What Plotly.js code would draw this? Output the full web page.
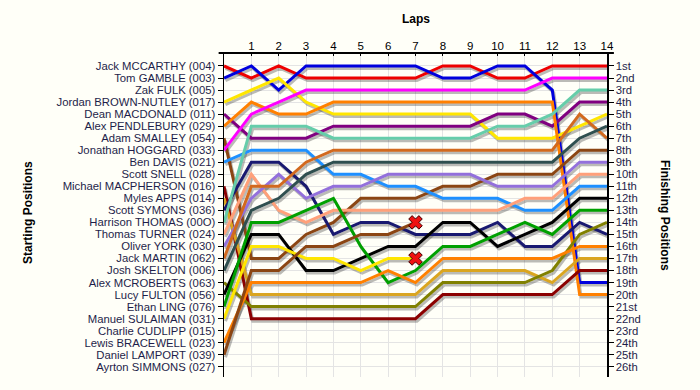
<!DOCTYPE html>
<html><head><meta charset="utf-8">
<script src="https://cdn.plot.ly/plotly-3.0.1.min.js"></script>
<style>html,body{margin:0;padding:0;background:#FFFFF8;}#chart{width:700px;height:390px;}</style>
</head><body><div id="chart"></div>
<script>
// ---- data ----
const laps = [0,1,2,3,4,5,6,7,8,9,10,11,12,13,14];
const startNames = ['Jack MCCARTHY (004)','Tom GAMBLE (003)','Zak FULK (005)','Jordan BROWN-NUTLEY (017)','Dean MACDONALD (011)','Alex PENDLEBURY (029)','Adam SMALLEY (054)','Jonathan HOGGARD (033)','Ben DAVIS (021)','Scott SNELL (028)','Michael MACPHERSON (016)','Myles APPS (014)','Scott SYMONS (036)','Harrison THOMAS (00O)','Thomas TURNER (024)','Oliver YORK (030)','Jack MARTIN (062)','Josh SKELTON (006)','Alex MCROBERTS (063)','Lucy FULTON (056)','Ethan LING (076)','Manuel SULAIMAN (031)','Charlie CUDLIPP (015)','Lewis BRACEWELL (023)','Daniel LAMPORT (039)','Ayrton SIMMONS (027)'];
const finishLabels = ['1st','2nd','3rd','4th','5th','6th','7th','8th','9th','10th','11th','12th','13th','14th','15th','16th','17th','18th','19th','20th','21st','22nd','23rd','24th','25th','26th'];

// position after each lap (lap 0 = starting position); null = retired
const posMcCarthy   = [1,2,1,2,2,2,2,2,1,1,2,2,1,1,1];
const posGamble     = [2,1,3,1,1,1,1,1,2,2,1,1,3,19,19];
const posBrownNutley= [4,3,2,4,5,5,5,5,5,5,7,7,7,6,5];
const posMacdonald  = [5,7,7,7,6,6,6,6,6,6,5,5,6,4,4];
const posPendlebury = [6,4,5,5,4,4,4,4,4,4,4,4,4,20,20];
const posSmalley    = [7,17,17,15,14,12,12,12,11,11,10,10,10,8,8];
const posHoggard    = [8,5,4,3,3,3,3,3,3,3,3,3,2,2,2];
const posDavis      = [9,8,8,8,10,10,11,11,12,12,12,13,13,11,11];
const posMacpherson = [11,22,22,22,22,22,22,22,20,20,20,20,20,18,18];
const posApps       = [12,20,20,20,20,20,20,20,18,18,18,18,19,17,17];
const posSymons     = [13,9,9,11,15,14,14,15,15,15,14,16,16,14,15];
const posThomas     = [14,6,6,6,7,7,7,7,7,7,6,6,5,3,3];
const posTurner     = [15,10,13,14,13,13,13,13,13,13,13,12,12,10,10];
const posYork       = [16,12,10,12,11,11,10,10,10,10,11,11,11,9,9];
const posMartin     = [17,11,11,9,8,8,8,8,8,8,8,8,8,5,7];
const posSkelton    = [18,13,12,10,9,9,9,9,9,9,9,9,9,7,6];
const posMcroberts  = [19,21,21,21,21,21,21,21,19,19,19,19,18,15,14];
const posFulton     = [20,15,15,18,18,17,16,16,14,14,16,15,14,12,12];
const posLing       = [21,14,14,13,12,16,19,18,16,16,15,14,15,13,13];
const posSulaiman   = [22,16,16,17,17,18,17,17,null,null,null,null,null,null,null];
const posBracewell  = [24,19,19,19,19,19,18,19,17,17,17,17,17,16,16];
const posLamport    = [25,18,18,16,16,15,15,14,null,null,null,null,null,null,null];

const riders = [
  ['Jack MCCARTHY (004)', posMcCarthy],
  ['Tom GAMBLE (003)', posGamble],
  ['Jordan BROWN-NUTLEY (017)', posBrownNutley],
  ['Dean MACDONALD (011)', posMacdonald],
  ['Alex PENDLEBURY (029)', posPendlebury],
  ['Adam SMALLEY (054)', posSmalley],
  ['Jonathan HOGGARD (033)', posHoggard],
  ['Ben DAVIS (021)', posDavis],
  ['Michael MACPHERSON (016)', posMacpherson],
  ['Myles APPS (014)', posApps],
  ['Scott SYMONS (036)', posSymons],
  ['Harrison THOMAS (00O)', posThomas],
  ['Thomas TURNER (024)', posTurner],
  ['Oliver YORK (030)', posYork],
  ['Jack MARTIN (062)', posMartin],
  ['Josh SKELTON (006)', posSkelton],
  ['Alex MCROBERTS (063)', posMcroberts],
  ['Lucy FULTON (056)', posFulton],
  ['Ethan LING (076)', posLing],
  ['Manuel SULAIMAN (031)', posSulaiman],
  ['Lewis BRACEWELL (023)', posBracewell],
  ['Daniel LAMPORT (039)', posLamport]
];

// ---- styles ----
const lineColors = {
  'Jack MCCARTHY (004)':'#EE0000','Tom GAMBLE (003)':'#0000DD','Jordan BROWN-NUTLEY (017)':'#FFE600',
  'Dean MACDONALD (011)':'#800080','Alex PENDLEBURY (029)':'#FF8000','Adam SMALLEY (054)':'#8B4513',
  'Jonathan HOGGARD (033)':'#FF00FF','Ben DAVIS (021)':'#1E90FF','Michael MACPHERSON (016)':'#8B0000',
  'Myles APPS (014)':'#DAA520','Scott SYMONS (036)':'#191970','Harrison THOMAS (00O)':'#66CDAA',
  'Thomas TURNER (024)':'#FFA07A','Oliver YORK (030)':'#9370DB','Jack MARTIN (062)':'#D2691E',
  'Josh SKELTON (006)':'#2F4F4F','Alex MCROBERTS (063)':'#808000','Lucy FULTON (056)':'#000000',
  'Ethan LING (076)':'#00A000','Manuel SULAIMAN (031)':'#FFE600','Lewis BRACEWELL (023)':'#FF8000',
  'Daniel LAMPORT (039)':'#8B4513'
};

const positions = startNames.map((_, i) => i + 1);
const yTop = -0.08, yBottom = 26.85;
const plotW = 700 - 224 - 93, plotH = 390 - 53 - 13;
const dx = 1.5 * 14 / plotW;                 // shadow shift (px -> units)
const dy = 2.5 * (yBottom - yTop) / plotH;

const traces = [];
// shadows on hidden, shifted base axes
riders.forEach(([name, p]) => {
  traces.push({x: laps, y: p, xaxis:'x', yaxis:'y', mode:'lines', hoverinfo:'skip',
    line:{color:'rgba(60,60,60,0.35)', width:3}, connectgaps:false});
});
// real lines
riders.forEach(([name, p]) => {
  traces.push({x: laps, y: p, xaxis:'x2', yaxis:'y2', mode:'lines', name: name,
    line:{color: lineColors[name], width:3}, connectgaps:false});
});
// retirement markers
const dnfX = [], dnfY = [];
riders.forEach(([name, p]) => {
  if (p[p.length-1] === null) {
    let k = p.length - 1; while (k > 0 && p[k] === null) k--;
    dnfX.push(laps[k]); dnfY.push(p[k]);
  }
});
traces.push({x: dnfX, y: dnfY, xaxis:'x2', yaxis:'y2', mode:'markers', hoverinfo:'skip',
  marker:{symbol:'x', size:12, color:'#EE1111', line:{color:'#400000', width:1}}});
// anchor trace for the right axis
traces.push({x:[null], y:[null], xaxis:'x2', yaxis:'y3', mode:'lines', hoverinfo:'skip'});

const labelColor = '#1E1E4A';
const tickSize = 11.3;
const layout = {
  width:700, height:390,
  margin:{l:224, r:93, t:53, b:13, pad:0},
  paper_bgcolor:'#FFFFF8', plot_bgcolor:'#FFFFF8',
  showlegend:false,
  font:{family:'Liberation Sans, Arial, sans-serif', size:tickSize, color:labelColor},
  xaxis:{range:[-dx, 14 - dx], visible:false, fixedrange:true},
  yaxis:{range:[yBottom - dy, yTop - dy], visible:false, fixedrange:true},
  xaxis2:{overlaying:'x', side:'top', anchor:'y2', range:[0,14],
    tickvals: laps, ticktext: laps.map(l => l === 0 ? '' : String(l)),
    showgrid:true, gridcolor:'#E4E4E4', gridwidth:1, zeroline:false,
    showline:false, ticks:'inside', ticklen:3, tickcolor:'#000', tickwidth:1,
    tickfont:{size:11.5, color:'#000'}},
  yaxis2:{overlaying:'y', side:'left', anchor:'x2', range:[yBottom, yTop],
    tickvals: positions, ticktext: startNames,
    showgrid:true, gridcolor:'#E4E4E4', gridwidth:1, zeroline:false,
    showline:true, linecolor:'#000', linewidth:1.5, ticks:'outside', ticklen:5, tickcolor:'#000',
    tickfont:{size:tickSize, color:labelColor}},
  yaxis3:{overlaying:'y', side:'right', anchor:'x2', range:[yBottom, yTop],
    tickvals: positions, ticktext: finishLabels,
    showgrid:false, zeroline:false,
    showline:true, linecolor:'#000', linewidth:1.5, ticks:'outside', ticklen:5, tickcolor:'#000',
    tickfont:{size:tickSize, color:labelColor}},
  shapes:[
    {type:'line', xref:'paper', yref:'paper', x0:-0.014, x1:1.018, y0:1, y1:1, line:{color:'#000', width:2}}
  ],
  annotations:[
    {text:'<b>Laps</b>', xref:'paper', yref:'paper', x:0.5, y:1 + 34/plotH, xanchor:'center', yanchor:'middle', showarrow:false, font:{size:12, color:'#000'}},
    {text:'<b>Starting Positions</b>', xref:'paper', yref:'paper', x:(28-224)/plotW, y:(377-213)/plotH, xanchor:'center', yanchor:'middle', textangle:-90, showarrow:false, font:{size:12, color:'#000'}},
    {text:'<b>Finishing Positions</b>', xref:'paper', yref:'paper', x:(665-224)/plotW, y:(377-215)/plotH, xanchor:'center', yanchor:'middle', textangle:90, showarrow:false, font:{size:12, color:'#000'}}
  ]
};

Plotly.newPlot('chart', traces, layout, {displayModeBar:false, staticPlot:true});
</script>
</body></html>
